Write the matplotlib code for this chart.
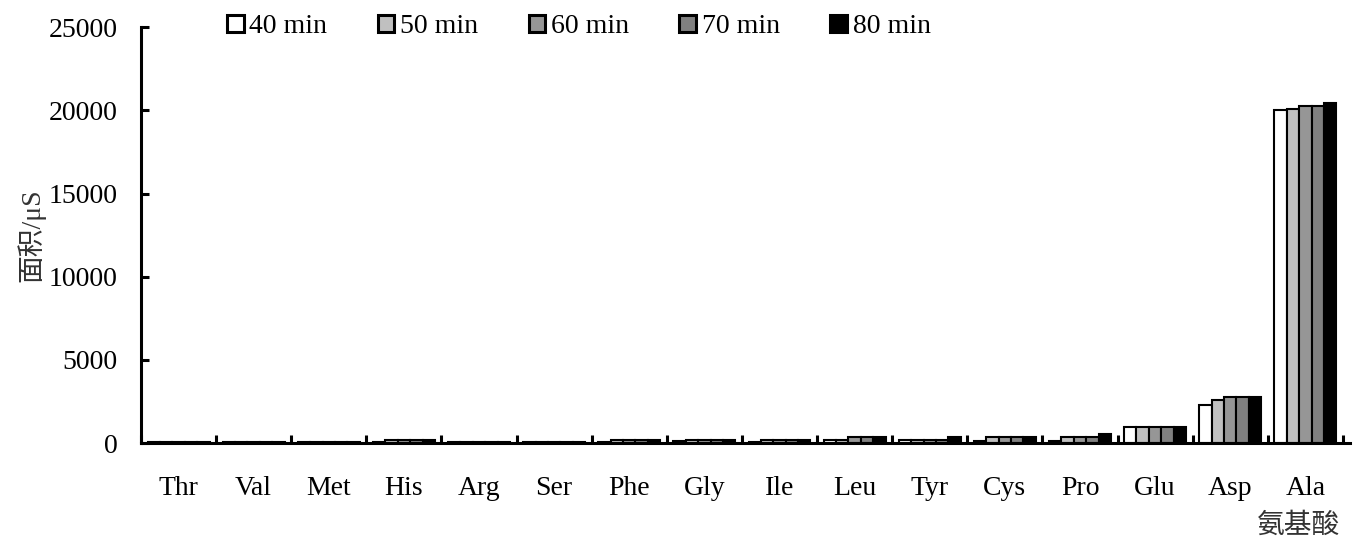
import numpy as np
import matplotlib
matplotlib.use("Agg")
import matplotlib.pyplot as plt
from matplotlib.ticker import FixedLocator

plt.rcParams["font.family"] = ["Liberation Serif", "Noto Sans CJK SC"]

amino_acids = ["Thr", "Val", "Met", "His", "Arg", "Ser", "Phe", "Gly",
               "Ile", "Leu", "Tyr", "Cys", "Pro", "Glu", "Asp", "Ala"]
series_labels = ["40 min", "50 min", "60 min", "70 min", "80 min"]

area_40 = [60, 60, 60, 60, 60, 60, 60, 100, 60, 200, 200, 150, 150, 950, 2300, 20000]
area_50 = [60, 60, 60, 180, 60, 60, 200, 200, 200, 200, 200, 350, 350, 950, 2600, 20100]
area_60 = [60, 60, 60, 180, 60, 60, 200, 200, 200, 350, 200, 350, 350, 950, 2750, 20270]
area_70 = [60, 60, 60, 180, 60, 60, 200, 200, 200, 350, 200, 350, 350, 950, 2750, 20270]
area_80 = [60, 60, 60, 180, 60, 60, 200, 200, 200, 350, 350, 350, 550, 950, 2750, 20450]

series_values = [area_40, area_50, area_60, area_70, area_80]
colors = ["white", "#c0c0c0", "#969696", "#808080", "black"]

FS = 20

fig = plt.figure(figsize=(13.65, 5.45), dpi=100)
ax = fig.add_axes([0.1033, 0.187, 0.886, 0.763])

x = np.arange(len(amino_acids))
w = 0.165
for i, (vals, c, lab) in enumerate(zip(series_values, colors, series_labels)):
    ax.bar(x + (i - 2) * w, vals, width=w, color=c, edgecolor="black",
           linewidth=1.5, label=lab)

ax.set_xlim(-0.5, len(amino_acids) - 0.4)
ax.set_ylim(0, 25000)
ax.set_yticks(range(0, 25001, 5000))

ax.set_xticks(x)
ax.set_xticklabels(amino_acids)
ax.xaxis.set_minor_locator(FixedLocator(np.arange(-0.5, len(amino_acids), 1.0)))
ax.tick_params(axis="x", which="major", length=0, pad=24, labelsize=FS)
ax.tick_params(axis="x", which="minor", direction="in", length=6, width=2.2)
ax.tick_params(axis="y", which="major", direction="in", length=6, width=2.2,
               labelsize=FS, pad=17)

for s in ["top", "right"]:
    ax.spines[s].set_visible(False)
for s in ["left", "bottom"]:
    ax.spines[s].set_linewidth(2.2)

ax.set_ylabel("面积/μS", fontsize=FS, color="#333333")
ax.yaxis.set_label_coords(-0.079, 0.5)

fig.text(0.982, 0.012, "氨基酸", fontsize=FS, color="#333333", ha="right",
         va="bottom")

leg = ax.legend(loc="upper left", bbox_to_anchor=(0.071, 1.031), ncol=5,
                frameon=False, fontsize=FS, handlelength=0.6, handleheight=0.6,
                handletextpad=0.2, columnspacing=1.82, borderpad=0,
                borderaxespad=0)
for h in leg.legend_handles:
    h.set_linewidth(2.2)

fig.savefig("out.png", dpi=100)
